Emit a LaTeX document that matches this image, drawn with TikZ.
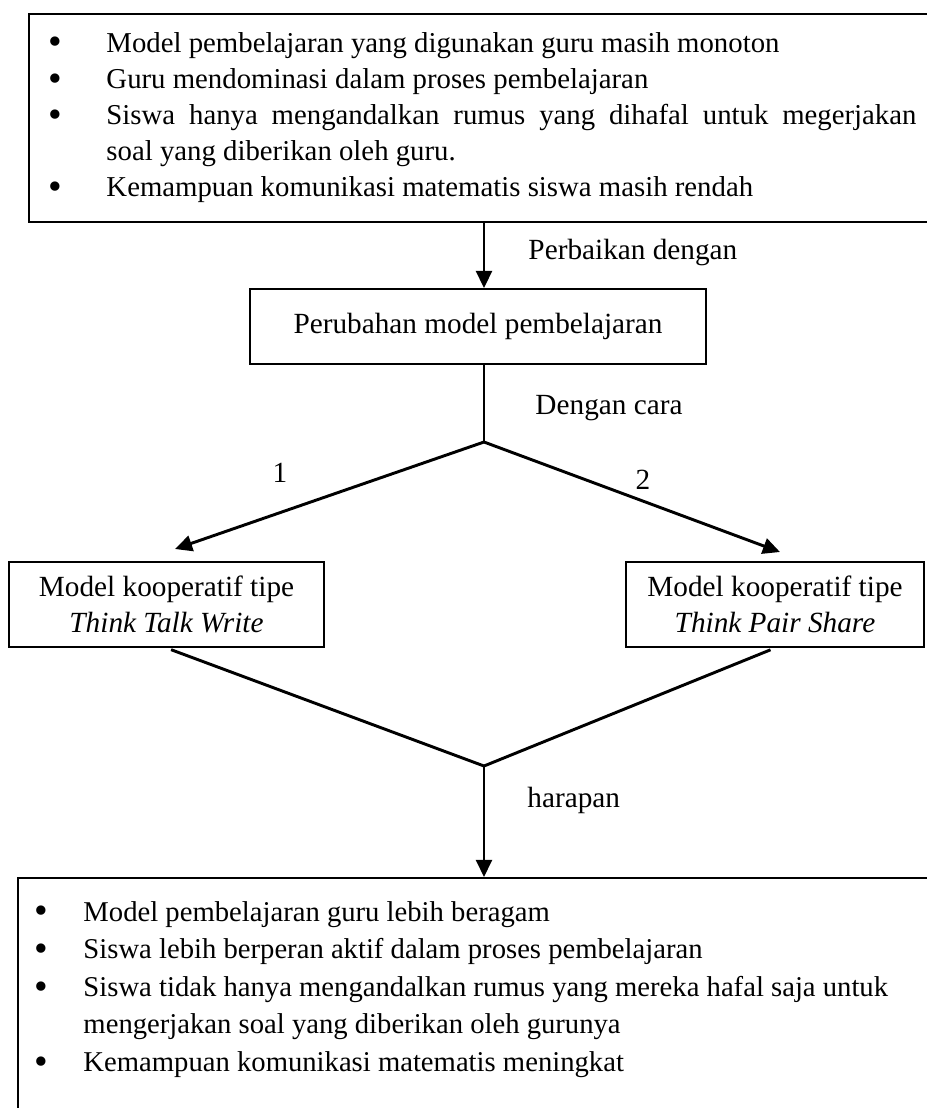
\documentclass[tikz,border=0pt]{standalone}
\usepackage{fontspec}
\setmainfont{Liberation Serif}
\usetikzlibrary{arrows.meta}

% one pixel of the page
\newlength{\pix}
\setlength{\pix}{0.41pt}
% bullet line with hanging text
\newcommand{\butir}[2]{\noindent\hangindent=#1\hangafter=1%
    \makebox[#1][l]{\raisebox{-1.2pt}{\fontsize{16pt}{0pt}\selectfont\textbullet}}#2\par}

\begin{document}
\begin{tikzpicture}[x=0.41pt, y=-0.41pt,
    every node/.style={font=\fontsize{12pt}{14.8pt}\selectfont},
    box/.style={draw, line width=0.8pt, inner sep=0pt},
    list/.style={anchor=base west, inner sep=0pt, align=justify},
    conn/.style={line width=1.2pt},
    arr/.style={conn, -{Triangle[width=6.5pt,length=7pt]}},
    lbl/.style={anchor=west, inner sep=0pt}]

    \useasboundingbox (0,0) rectangle (927,1108);

% problems
    \node[box, anchor=north west, minimum width=950\pix, minimum height=208\pix] (problems) at (28,13) {};
    \node[list, text width=868\pix, font=\fontsize{11.8pt}{14.8pt}\selectfont] (problemlist) at (48,52) {%
        \butir{58\pix}{Model pembelajaran yang digunakan guru masih monoton}%
        \butir{58\pix}{Guru mendominasi dalam proses pembelajaran}%
        \butir{58\pix}{Siswa hanya mengandalkan rumus yang dihafal untuk megerjakan\linebreak soal yang diberikan oleh guru.}%
        \butir{58\pix}{Kemampuan komunikasi matematis siswa masih rendah}};

% change of model
    \node[box, minimum width=456\pix, minimum height=75\pix] (change) at (478,326.5) {Perubahan model pembelajaran};

% two models
    \node[box, minimum width=315\pix, minimum height=85\pix, align=center] (ttw) at (166.5,604.5)
        {Model kooperatif tipe\\\textit{Think Talk Write}};
    \node[box, minimum width=298\pix, minimum height=85\pix, align=center] (tps) at (775,604.5)
        {Model kooperatif tipe\\\textit{Think Pair Share}};

% hopes
    \node[box, anchor=north west, minimum width=950\pix, minimum height=260\pix] (hopes) at (17,877) {};
    \node[list, text width=900\pix, font=\fontsize{11.75pt}{15.4pt}\selectfont] (hopelist) at (34,921) {%
        \butir{49\pix}{Model pembelajaran guru lebih beragam}%
        \butir{49\pix}{Siswa lebih berperan aktif dalam proses pembelajaran}%
        \butir{49\pix}{Siswa tidak hanya mengandalkan rumus yang mereka hafal saja untuk\newline mengerjakan soal yang diberikan oleh gurunya}%
        \butir{49\pix}{Kemampuan komunikasi matematis meningkat}};

% branch points
    \coordinate (split) at (484,442);
    \coordinate (merge) at (484,766);
    \coordinate (tipA) at (175,549);
    \coordinate (tipB) at (780,552);

% connectors
    \draw[arr] (problems.south -| split) -- (change.north -| split);
    \draw[conn] (change.south -| split) -- (split);
    \draw[arr] (split) -- (tipA);
    \draw[arr] (split) -- (tipB);
    \draw[conn, shorten <=2pt] (ttw.south) -- (merge);
    \draw[conn, shorten <=2pt] (tps.south) -- (merge);
    \draw[arr] (merge) -- (hopes.north -| merge);

% labels
    \node[lbl] (fix) at (528,252) {Perbaikan dengan};
    \node[lbl] (way) at (535,408) {Dengan cara};
    \node[lbl] (hope) at (527,800) {harapan};
    \node (one) at (280,473) {1};
    \node (two) at (643,480) {2};

\end{tikzpicture}
\end{document}
